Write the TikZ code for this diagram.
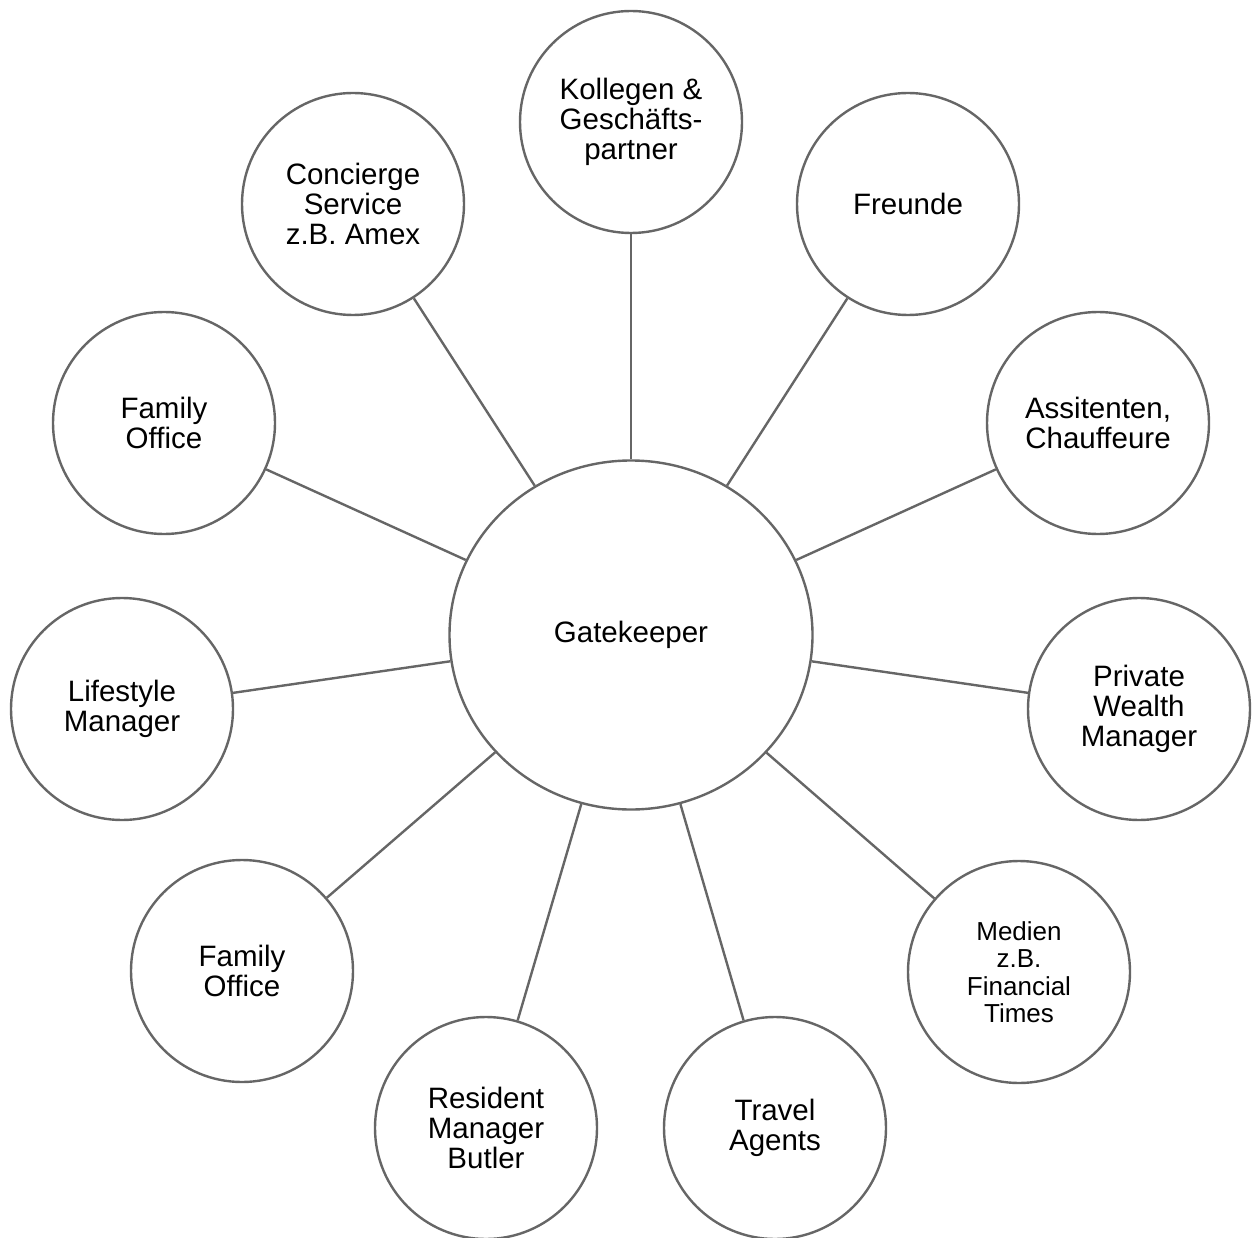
\documentclass[tikz,border=0pt]{standalone}
\usepackage{fontspec}
\setmainfont{Liberation Sans}
\usetikzlibrary{shapes.geometric,graphs}
\definecolor{rimgray}{HTML}{666666}

\begin{document}
\begin{tikzpicture}[x=1pt,y=-1pt]
	\tikzstyle{every node}=[font=\fontsize{29.5}{30}\selectfont];
	\tikzstyle{hub}=[draw=rimgray,ellipse,line width=2.4pt,minimum width=363pt,minimum height=349pt,inner sep=0pt,align=center];
	\tikzstyle{ctc}=[draw=rimgray,circle,line width=2.4pt,minimum size=222pt,inner sep=0pt,align=center];
	\useasboundingbox (0,0) rectangle (1258,1238);
	\node (gate) [hub] at (631,635) {Gatekeeper};
	\node (koll) [ctc] at (631,122) {Kollegen \&\\ Geschäfts-\\ partner};
	\node (freu) [ctc] at (908,204) {Freunde};
	\node (assi) [ctc] at (1098,423) {Assitenten,\\ Chauffeure};
	\node (pwm) [ctc] at (1139,709) {Private\\ Wealth\\ Manager};
	\node (medien) [ctc,font=\fontsize{26}{27.5}\selectfont] at (1019,972) {Medien\\ z.B.\\ Financial\\ Times};
	\node (travel) [ctc] at (775,1128) {Travel\\ Agents};
	\node (butler) [ctc] at (486,1128) {Resident\\ Manager\\ Butler};
	\node (famoff_b) [ctc] at (242,971) {Family\\ Office};
	\node (life) [ctc] at (122,709) {Lifestyle\\ Manager};
	\node (famoff_a) [ctc] at (164,423) {Family\\ Office};
	\node (conc) [ctc] at (353,204) {Concierge\\ Service\\ z.B. Amex};
	\graph [use existing nodes,edges={draw=rimgray,line width=2.4pt}]{
		gate -- {koll, freu, assi, pwm, medien, travel, butler, famoff_b, life, famoff_a, conc};
	};
\end{tikzpicture}
\end{document}
